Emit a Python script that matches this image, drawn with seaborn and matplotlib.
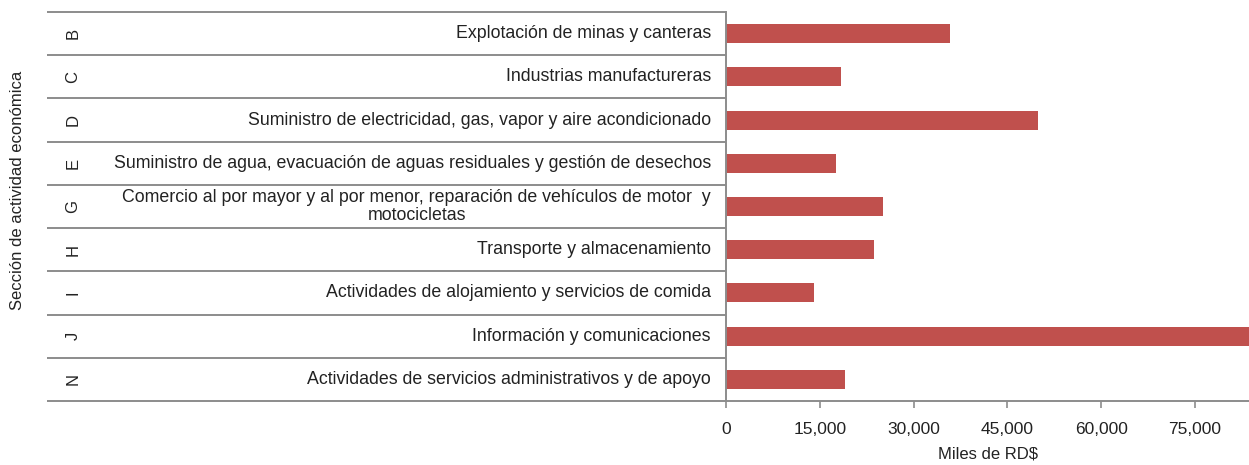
import numpy as np
import pandas as pd
import matplotlib
matplotlib.use('Agg')
import matplotlib.pyplot as plt
import matplotlib.transforms as mtransforms
from matplotlib.ticker import FuncFormatter
import seaborn as sns

# datos
secciones = ['B', 'C', 'D', 'E', 'G', 'H', 'I', 'J', 'N']
actividades = [
    'Explotación de minas y canteras',
    'Industrias manufactureras',
    'Suministro de electricidad, gas, vapor y aire acondicionado',
    'Suministro de agua, evacuación de aguas residuales y gestión de desechos',
    'Comercio al por mayor y al por menor, reparación de vehículos de motor  y\nmotocicletas',
    'Transporte y almacenamiento',
    'Actividades de alojamiento y servicios de comida',
    'Información y comunicaciones',
    'Actividades de servicios administrativos y de apoyo',
]
valores = [35900, 18400, 49900, 17600, 25100, 23700, 14100, 88000, 19000]
ticks_x = [0, 15000, 30000, 45000, 60000, 75000]

df = pd.DataFrame({'Seccion': secciones, 'Actividad': actividades, 'Valor': valores})

sns.set_style('white')
plt.rcParams['font.family'] = ['Liberation Sans', 'DejaVu Sans']

W, H = 1249, 465
fig = plt.figure(figsize=(W / 100, H / 100), dpi=100)
x0, x1, ytop, ybot = 726, 1249, 12, 401
ax = fig.add_axes([x0 / W, 1 - ybot / H, (x1 - x0) / W, (ybot - ytop) / H])

sns.barplot(data=df, x='Valor', y='Seccion', orient='h', color='#C0504D',
            width=0.44, saturation=1, linewidth=0, ax=ax)

# escala: 75,000 cae en x=1195 px
px_per = (1195 - x0) / 75000
ax.set_xlim(0, (x1 - x0) / px_per)
ax.set_ylim(len(secciones) - 0.5, -0.5)
ax.set_xticks(ticks_x)
ax.xaxis.set_major_formatter(FuncFormatter(lambda v, p: f'{int(v):,}'))
ax.tick_params(axis='x', which='both', bottom=True, length=5, width=1.2,
               color='#8c8c8c', labelsize=12.5, labelcolor='#222222', pad=10)
ax.set_yticks([])
ax.set_ylabel('')
ax.set_xlabel('Miles de RD$', fontsize=12, color='#222222', labelpad=7)

gris = '#8c8c8c'
for s in ['top', 'right']:
    ax.spines[s].set_visible(False)
for s in ['left', 'bottom']:
    ax.spines[s].set_color(gris)
    ax.spines[s].set_linewidth(1.4)

# tabla de categorias a la izquierda
trans = mtransforms.blended_transform_factory(ax.transAxes, ax.transData)
ax_w = x1 - x0
def fx(px):
    return (px - x0) / ax_w

for k in range(len(secciones) + 1):
    yk = k - 0.5
    ax.plot([fx(47), 0], [yk, yk], color=gris, lw=1.4, transform=trans,
            clip_on=False, solid_capstyle='butt')

for i, (sec, act) in enumerate(zip(secciones, actividades)):
    ax.text(fx(73), i, sec, rotation=90, ha='center', va='center',
            fontsize=12, color='#222222', transform=trans)
    ax.text(fx(711), i, act, ha='right', va='center', fontsize=12.8,
            color='#222222', transform=trans, linespacing=1.1,
            multialignment='center')

fig.text(18 / W, 1 - 190 / H, 'Sección de actividad económica', rotation=90,
         ha='center', va='center', fontsize=12, color='#222222')

fig.savefig('out.png', dpi=100)
